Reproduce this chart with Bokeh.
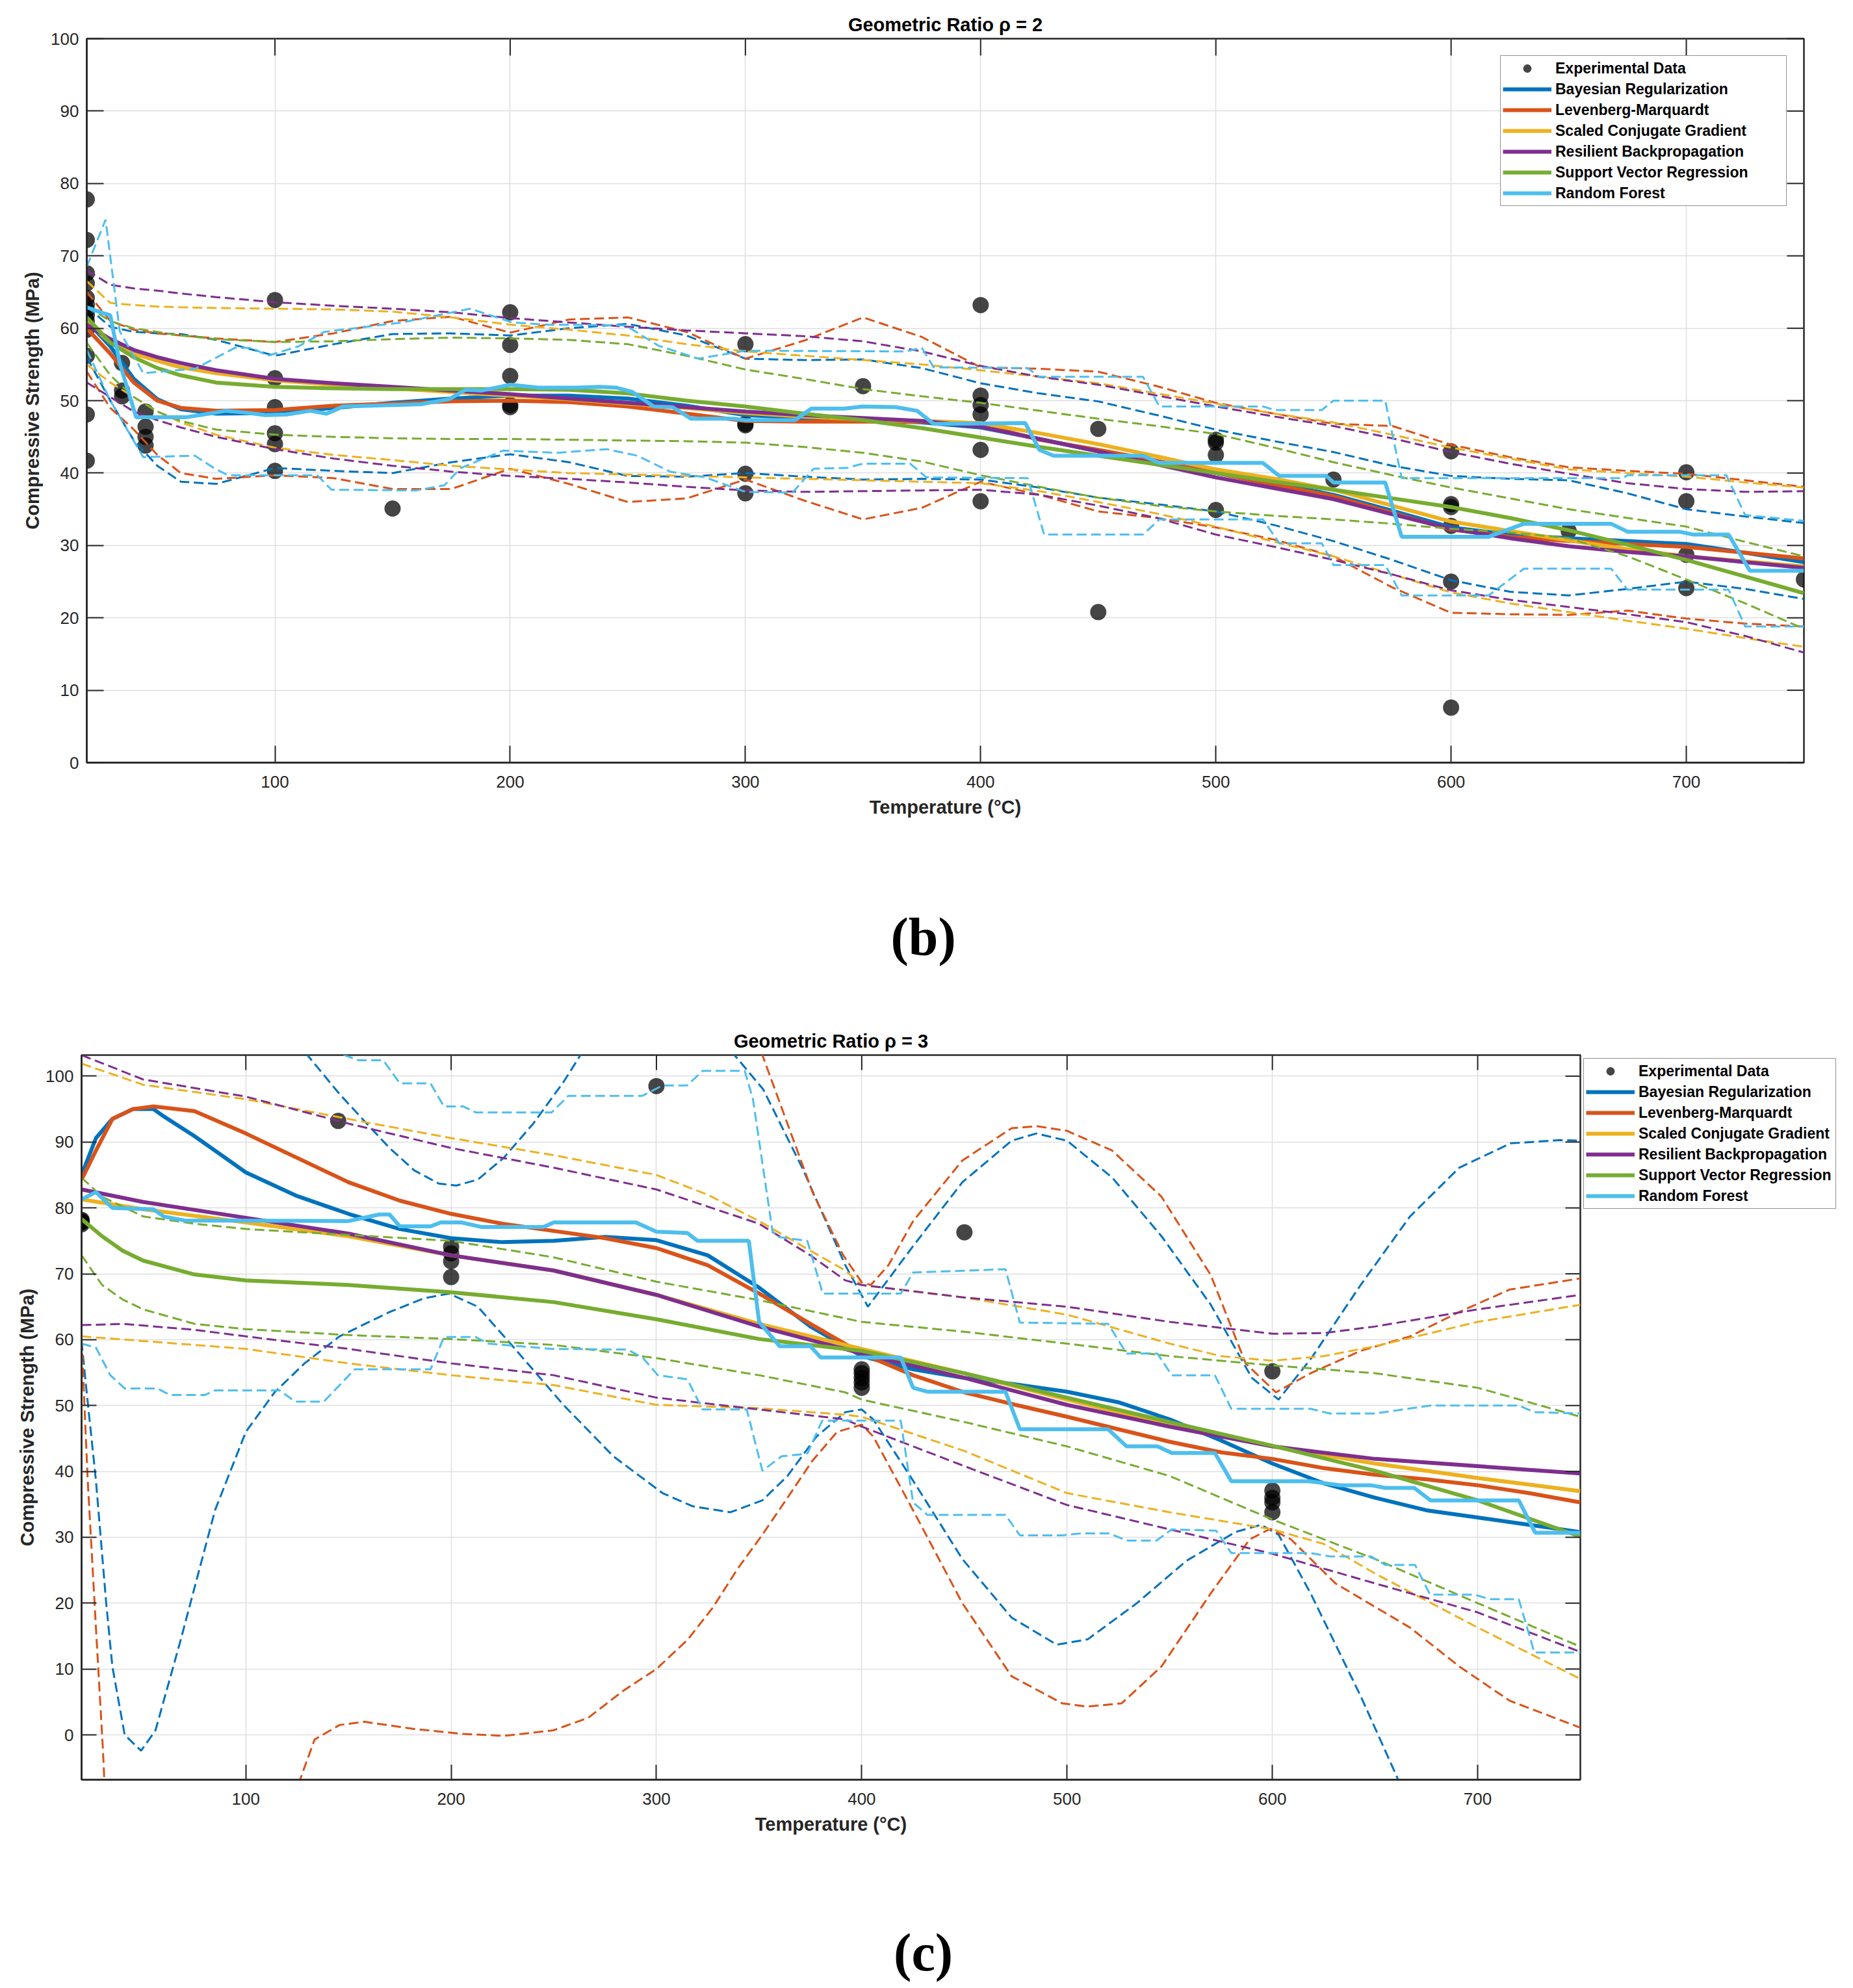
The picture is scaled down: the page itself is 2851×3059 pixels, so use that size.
import math
from bokeh.plotting import figure
from bokeh.models import Range1d, FixedTicker, Legend, LegendItem
from bokeh.core.properties import value
from bokeh.layouts import column
from bokeh.embed import file_html
from bokeh.resources import INLINE

# ---------------------------------------------------------------- common
MODEL_NAMES = ["Bayesian Regularization", "Levenberg-Marquardt", "Scaled Conjugate Gradient",
               "Resilient Backpropagation", "Support Vector Regression", "Random Forest"]
MODEL_COLORS = ["#0072BD", "#D95319", "#EDB120", "#7E2F8E", "#77AC30", "#4DBEEE"]
X_TICKS = [100, 200, 300, 400, 500, 600, 700]
Y_TICKS = [0, 10, 20, 30, 40, 50, 60, 70, 80, 90, 100]
PANEL_TAGS = ["(b)", "(c)"]

# ---------------------------------------------------------------- panel (b)  rho = 2
B_EXP_T = [20, 20, 20, 20, 20, 20, 20, 20, 20, 20, 20, 20, 20,
           35, 35, 35, 45, 45, 45, 45,
           100, 100, 100, 100, 100, 100, 150,
           200, 200, 200, 200, 200,
           300, 300, 300, 300, 300, 350,
           400, 400, 400, 400, 400, 400, 450, 450,
           500, 500, 500, 500, 550,
           600, 600, 600, 600, 600, 600, 650,
           700, 700, 700, 700, 750]
B_EXP_S = [77.8, 72.2, 67.6, 66.2, 64.2, 63.3, 62.5, 61.8, 61.0, 59.8, 56.2, 48.1, 41.7,
           55.2, 51.4, 50.6, 48.5, 46.4, 45.0, 43.8,
           63.9, 53.1, 49.1, 45.5, 44.0, 40.3, 35.1,
           62.2, 57.7, 53.4, 49.4, 49.1,
           57.8, 46.8, 46.6, 39.9, 37.2, 52.0,
           63.2, 50.7, 49.4, 48.1, 43.2, 36.1, 46.1, 20.8,
           44.6, 44.2, 42.5, 34.9, 39.1,
           43.0, 35.7, 35.3, 32.7, 25.0, 7.6, 32.0,
           40.1, 36.1, 28.7, 24.1, 25.3]

B_T = [20, 30, 40, 50, 60, 75, 100, 125, 150, 175, 200,
       225, 250, 275, 300, 325, 350, 375, 400, 425, 450, 475,
       500, 525, 550, 575, 600, 625, 650, 675, 700, 725, 750]

B_BR_MEAN = [61, 57.5, 53, 50.2, 48.8, 48.2, 48.3, 49, 49.7, 50.3, 50.7,
             50.7, 50.3, 49.3, 48, 47.6, 47.4, 47, 46.3, 44.7, 43, 41.5,
             40, 38.6, 37, 34.8, 32.5, 31.5, 31, 30.6, 30.2, 29, 27.7]
B_BR_UP = [63, 60.2, 59.5, 59.3, 59.2, 58.4, 56.2, 57.8, 59.2, 59.3, 59,
           60, 60.6, 59, 55.8, 55.6, 55.7, 54.5, 52.4, 51, 49.9, 48,
           46, 44.4, 42.9, 41, 39.6, 39.2, 39.0, 37.2, 35, 34, 33.1]
B_BR_LO = [56, 50, 44.5, 41, 38.8, 38.5, 40.7, 40.3, 40, 41.5, 42.6,
           41.5, 39.6, 39.5, 40, 39.5, 39.1, 39.2, 39.1, 38, 36.6, 35.7,
           34.7, 32.8, 30.6, 28, 25.2, 23.6, 23.1, 24, 25, 24, 22.6]

B_LM_MEAN = [60, 56.5, 52.5, 50, 49, 48.6, 48.7, 49.3, 49.6, 49.9, 50,
             49.8, 49.2, 48.2, 47.2, 47.1, 47.1, 47.1, 46.7, 44.6, 43.2, 41.7,
             40, 38.4, 36.8, 34.5, 32.2, 31.2, 30.6, 30.2, 29.8, 29, 28.2]
B_LM_UP = [65, 61, 59.8, 59.3, 59, 58.6, 58.1, 59.3, 61, 61.6, 59.4,
           61.2, 61.5, 59.5, 55.8, 58.3, 61.5, 58.8, 54.6, 54.4, 54, 52,
           49.7, 48.2, 46.8, 46.5, 43.9, 42.2, 40.8, 40.3, 39.9, 39, 38.1]
B_LM_LO = [54, 49, 46, 42.5, 40, 39.2, 39.7, 39.3, 37.8, 37.8, 40.6,
           38.5, 36, 36.5, 39.1, 36.2, 33.6, 35.2, 38.8, 37, 34.7, 33.8,
           32.5, 30.8, 28.5, 24.2, 20.7, 20.5, 20.4, 21, 19.9, 19.2, 18.8]

B_SCG_MEAN = [61, 58, 56.5, 55.5, 54.6, 53.8, 52.8, 52.2, 51.7, 51.2, 50.7,
              50.2, 49.6, 49.0, 48.3, 47.8, 47.4, 47.2, 46.9, 45.5, 44, 42.3,
              40.5, 39.2, 37.7, 35.5, 33.3, 32, 30.7, 29.5, 28.5, 27.8, 27.1]
B_SCG_UP = [66.5, 63.5, 63.2, 63, 62.9, 62.8, 62.7, 62.6, 62.3, 61.5, 60.5,
            59.8, 59, 57.8, 56.8, 56.2, 55.6, 55, 54.2, 53.3, 52.4, 51,
            49.6, 48.2, 47, 45.3, 43.5, 42, 40.5, 40, 39.5, 38.7, 38]
B_SCG_LO = [55, 52.5, 50.5, 48.5, 47, 45.3, 43.5, 42.5, 41.8, 41, 40.5,
            40, 39.8, 39.6, 39.4, 39.2, 39, 38.8, 38.6, 37.5, 36, 34.4,
            32.6, 30.5, 28.5, 26, 23.5, 22, 20.8, 19.6, 18.5, 17.2, 16]

B_RP_MEAN = [60.5, 58.5, 57, 56, 55.2, 54.2, 53, 52.4, 51.9, 51.4, 50.9,
             50.3, 49.7, 49.1, 48.5, 48, 47.6, 47.2, 46.4, 44.7, 43, 41.2,
             39.4, 37.9, 36.4, 34.3, 32.3, 31, 29.9, 29.1, 28.5, 27.7, 26.9]
B_RP_UP = [68, 66, 65.5, 65.2, 64.8, 64.3, 63.6, 63.1, 62.7, 62.2, 61.4,
           60.8, 60.2, 59.7, 59.3, 58.9, 58.2, 56.8, 54.8, 53.3, 52.2, 50.7,
           49.2, 47.8, 46.5, 44.8, 42.9, 41.3, 39.9, 38.6, 37.8, 37.4, 37.5]
B_RP_LO = [52.5, 50.5, 48.5, 47.3, 46.3, 45, 43.3, 42, 41, 40.2, 39.6,
           39.2, 38.7, 38.1, 37.6, 37.4, 37.5, 37.6, 37.7, 37, 35.5, 33.8,
           31.5, 29.8, 28, 26, 23.8, 22.5, 21.5, 20.5, 19.4, 17.5, 15.2]

B_SVR_MEAN = [61.5, 58, 56, 54.5, 53.5, 52.5, 51.9, 51.7, 51.6, 51.6, 51.6,
              51.5, 51, 50, 49.2, 48.2, 47.3, 46.2, 44.9, 43.6, 42.4, 41.2,
              40, 38.8, 37.7, 36.5, 35.3, 33.8, 32.1, 30.1, 28, 25.7, 23.4]
B_SVR_UP = [63, 61, 60, 59.5, 59, 58.5, 58.1, 58.2, 58.5, 58.7, 58.6,
            58.4, 57.8, 56.2, 54.3, 53, 51.6, 50.6, 49.7, 48.6, 47.5, 46.5,
            45.4, 43.5, 41.5, 39.7, 38, 36.5, 35, 33.8, 32.6, 30.5, 28.5]
B_SVR_LO = [58, 53.5, 50.5, 48.5, 47.2, 46, 45.3, 45, 44.8, 44.7, 44.7,
            44.6, 44.5, 44.4, 44.2, 43.6, 42.8, 41.6, 39.7, 38.1, 36.6, 35.5,
            34.7, 34.1, 33.6, 33, 32.3, 31.8, 31, 28.5, 25.3, 22, 18.5]

B_RF_MEAN_T = [20, 26, 30, 34, 41, 62, 72, 79, 89, 96, 105, 115, 122, 129, 162, 174, 181, 188,
               200, 212, 228, 238, 245, 252, 261, 269, 277, 295, 300, 321, 328, 342, 350, 364,
               373, 380, 419, 425, 431, 469, 476, 520, 527, 547, 550, 572, 579, 616, 631, 668,
               675, 697, 703, 718, 727, 750]
B_RF_MEAN = [62.9, 62.2, 61.8, 55.2, 47.7, 47.7, 48.2, 48.6, 48.3, 48.0, 48.1, 48.6, 48.2, 49.2,
             49.5, 50.2, 51.5, 51.4, 52.2, 51.8, 51.8, 51.9, 51.8, 51.2, 49.2, 49.1, 47.5, 47.5,
             47.3, 47.3, 48.9, 48.9, 49.2, 49.1, 48.6, 46.8, 46.9, 43.2, 42.4, 42.4, 41.4, 41.4,
             39.6, 39.6, 38.7, 38.7, 31.2, 31.2, 33.0, 33.0, 31.9, 31.9, 31.5, 31.5, 26.5, 26.5]
B_RF_UP_T = [20, 28, 34, 44, 66, 83, 90, 97, 110, 121, 154, 183, 201, 215, 249, 263, 280, 300,
             368, 375, 380, 420, 425, 469, 476, 520, 525, 545, 550, 572, 579, 673, 675, 717,
             725, 750]
B_RF_UP = [68.5, 75.0, 59.6, 53.8, 54.4, 57.3, 57.3, 56.2, 57.5, 59.5, 60.8, 62.7, 60.8, 60.5,
           60.4, 57.6, 55.8, 56.9, 56.8, 57.3, 54.6, 54.5, 53.3, 53.3, 49.2, 49.2, 48.7, 48.7,
           50.0, 50.0, 39.3, 39.3, 39.7, 39.7, 34.2, 33.4]
B_RF_LO_T = [20, 30, 44, 66, 74, 80, 118, 124, 160, 172, 179, 197, 220, 241, 254, 268, 283, 300,
             320, 329, 343, 350, 370, 377, 420, 427, 469, 476, 520, 527, 545, 550, 572, 579,
             616, 631, 668, 675, 718, 725, 750]
B_RF_LO = [57.0, 50.0, 42.2, 42.4, 40.7, 39.7, 39.7, 37.7, 37.6, 38.3, 40.7, 43.1, 42.8, 43.3,
           42.4, 40.2, 39.4, 37.4, 37.3, 40.6, 40.7, 41.3, 41.3, 39.4, 39.3, 31.5, 31.5, 33.6,
           33.6, 30.3, 30.3, 27.3, 27.3, 23.1, 23.1, 26.8, 26.8, 23.9, 23.9, 18.8, 18.8]

# ---------------------------------------------------------------- panel (c)  rho = 3
C_EXP_T = [20, 20, 20, 20, 20, 145, 200, 200, 200, 200, 300,
           400, 400, 400, 400, 400, 450, 600, 600, 600, 600, 600]
C_EXP_S = [77.5, 77.8, 78.0, 78.2, 77.9, 93.2, 74.1, 73.1, 71.9, 69.5, 98.5,
           55.5, 54.9, 54.2, 53.5, 52.7, 76.3, 55.2, 37.1, 36.0, 35.3, 33.8]

C_BR_MEAN_T = [20, 27, 35, 45, 55, 60, 75, 100, 125, 150, 175, 200, 225, 250, 275, 300, 325,
               350, 375, 400, 425, 450, 475, 500, 525, 550, 575, 600, 625, 650, 675, 700, 725, 750]
C_BR_MEAN = [85, 90.6, 93.5, 95, 95, 93.9, 90.9, 85.4, 81.8, 79.1, 76.8, 75.4, 74.8, 75.0, 75.6,
             75.1, 72.8, 67.9, 62.0, 57.5, 55.5, 54.2, 53.2, 52.1, 50.5, 47.9, 44.7, 41.2, 38.2,
             36.0, 34.1, 33.0, 31.9, 30.8]
C_BR_UP_T = [20, 50, 80, 110, 130, 145.6, 157.7, 170, 182, 194, 202.5, 213, 225.6, 240, 254.7,
             263, 290, 320, 338, 352, 371, 392, 403, 425, 449, 473, 485, 500, 522, 546, 570,
             590, 603, 619, 643, 667, 691, 716, 740, 750]
C_BR_UP = [125, 135, 128, 112, 103.2, 97.3, 93.2, 89.1, 85.7, 83.7, 83.4, 84.3, 87.6, 92.8, 99.1,
           103.2, 112, 110, 103.2, 98, 86.1, 71.3, 65, 74.2, 83.9, 90.2, 91.3, 90.2, 84.6, 75.7,
           65.3, 54.2, 50.9, 57.2, 68.3, 78.7, 86.1, 89.8, 90.3, 90.2]
C_BR_LO_T = [20, 22, 27, 32, 35, 41, 49, 56, 68, 85, 100, 114, 128.6, 145.6, 170, 187, 199, 213,
             230, 254.7, 279, 303, 317.7, 336, 351.6, 363.8, 378, 392, 400, 405.6, 425, 449,
             473, 495, 510, 534, 558, 582, 594.5, 603, 618.6, 643, 660, 700, 750]
C_BR_LO = [59.8, 53.5, 38.6, 20, 10.4, 0, -2.4, 0.7, 14.1, 34.1, 46.0, 52.0, 56.4, 60.5, 64.2,
           66.3, 67.0, 65.0, 59.0, 50.1, 42.3, 36.7, 34.7, 33.8, 35.6, 39.3, 45.3, 49.0, 49.4,
           47.9, 38.6, 26.7, 17.8, 13.7, 14.5, 20, 26.4, 30.8, 31.9, 30.4, 21.5, 5.9, -5.9,
           -35, -70]

C_LM_MEAN_T = [20, 27, 35, 45, 55, 75, 100, 125, 150, 175, 200, 225, 250, 275, 300, 325, 350,
               375, 400, 425, 450, 475, 500, 525, 550, 575, 600, 625, 650, 675, 700, 725, 750]
C_LM_MEAN = [84.3, 88.7, 93.5, 95, 95.4, 94.7, 91.3, 87.6, 83.9, 81.1, 79.1, 77.6, 76.5, 75.4,
             73.9, 71.3, 67, 62.4, 57.9, 54.6, 52.0, 50.1, 48.3, 46.4, 44.5, 42.9, 41.9, 40.5,
             39.5, 38.8, 37.9, 36.7, 35.3]
C_LM_UP_T = [20, 100, 200, 300, 340, 351.6, 363.8, 376, 391, 400, 404.4, 413, 425, 449, 473,
             485.5, 500, 522, 546, 570, 587, 601.7, 618.6, 643, 667, 691, 715.5, 750]
C_LM_UP = [115, 125, 120, 115, 110, 103.2, 92.8, 82.4, 72.8, 68.7, 68.3, 71.3, 78, 87.2, 92.1,
           92.4, 91.7, 88.7, 81.7, 69.8, 56.4, 52.0, 54.9, 58.3, 60.5, 64.2, 67.6, 69.3]
C_LM_LO_T = [20, 23, 27, 30.4, 33, 45, 70, 100, 115, 125, 133.5, 145.6, 157.7, 182, 206, 225.6,
             249.8, 266.8, 283.8, 300, 315.3, 327.4, 339.5, 351.6, 363.8, 375.9, 388, 400,
             405.6, 425, 449, 473, 497.6, 509.7, 526.6, 546, 570, 589, 599, 609, 630.7, 667,
             691, 715.5, 750]
C_LM_LO = [60.1, 38.6, 16.3, -2.2, -20, -60, -80, -60, -30, -8, -0.7, 1.5, 2.0, 0.9, 0.15,
           -0.15, 0.7, 2.6, 6.7, 10.0, 14.5, 19.3, 25.2, 30.4, 36.0, 41.6, 46.0, 47.1, 45.3,
           34.1, 20, 8.9, 4.8, 4.3, 4.8, 10.4, 21.5, 29.7, 31.3, 29.7, 23.0, 16.3, 10.4, 5.2, 1.1]

C_SCG_MEAN_T = [20, 50, 100, 150, 200, 250, 300, 350, 400, 450, 500, 550, 600, 650, 700, 750]
C_SCG_MEAN = [81.3, 79.8, 77.8, 75.7, 72.8, 70.5, 66.8, 62.4, 58.6, 54.9, 50.9, 47.1, 43.8,
              41.2, 39.0, 37.0]
C_SCG_UP_T = [20, 50, 100, 150, 200, 250, 300, 325, 350, 375, 392, 400, 450, 500, 550, 575, 600,
              625, 650, 700, 750]
C_SCG_UP = [101.9, 98.7, 96.5, 93.5, 90.6, 88, 85, 82, 78, 73.5, 70.5, 68.3, 66.4, 63.8, 59.4,
            57.5, 56.8, 57.5, 59, 62.7, 65.3]
C_SCG_LO_T = [20, 50, 100, 150, 200, 250, 300, 350, 392, 400, 450, 500, 550, 600, 625, 650,
              700, 750]
C_SCG_LO = [60.5, 59.8, 58.6, 56.4, 54.6, 53.1, 50.1, 49.6, 48.6, 48.3, 43.1, 36.7, 33.8, 31.2,
            29, 24.5, 16.3, 8.5]

C_RP_MEAN_T = [20, 50, 100, 150, 200, 250, 300, 350, 400, 450, 500, 550, 600, 650, 700, 750]
C_RP_MEAN = [82.8, 80.9, 78.5, 76.1, 72.8, 70.5, 66.8, 62, 57.9, 54.2, 50.1, 46.8, 43.8, 41.9,
             40.8, 39.7]
C_RP_UP_T = [20, 50, 100, 150, 200, 250, 300, 350, 375, 392, 400, 450, 500, 550, 600, 625, 650,
             700, 750]
C_RP_UP = [103.2, 99.5, 96.9, 92.8, 89.1, 86.1, 82.8, 77.6, 72.8, 69.0, 68.3, 66.4, 65, 62.7,
           60.9, 61.0, 62, 64.6, 66.8]
C_RP_LO_T = [20, 40, 75, 100, 150, 200, 250, 300, 350, 392, 400, 450, 500, 550, 600, 650, 700,
             750]
C_RP_LO = [62.2, 62.4, 61.5, 60.5, 58.6, 56.4, 54.6, 51.2, 49.4, 47.9, 46.8, 40.8, 34.9, 31.2,
           27.5, 23, 18.6, 12.6]

C_SVR_MEAN_T = [20, 30, 40, 50, 75, 100, 150, 200, 250, 300, 350, 400, 450, 500, 550, 600, 650,
                700, 750]
C_SVR_MEAN = [78.3, 75.7, 73.5, 72.0, 69.9, 69.0, 68.3, 67.2, 65.7, 63.1, 60.1, 58.3, 54.9, 51.2,
              47.5, 43.9, 40.1, 35.6, 30.1]
C_SVR_UP_T = [20, 30, 50, 75, 100, 150, 200, 250, 300, 350, 400, 450, 500, 550, 600, 650, 700,
              750]
C_SVR_UP = [84.6, 81.7, 78.7, 77.6, 76.8, 75.9, 75, 72.5, 68.8, 66, 62.7, 61.2, 59.4, 57.5, 56.1,
            54.9, 52.7, 48.3]
C_SVR_LO_T = [20, 30, 40, 50, 75, 100, 150, 200, 250, 300, 350, 392, 400, 450, 500, 550, 600,
              650, 700, 750]
C_SVR_LO = [72.8, 68.3, 66.1, 64.6, 62.4, 61.6, 60.7, 60.1, 59.2, 57.2, 54.6, 52, 50.9, 47.5,
            43.8, 39.3, 32.7, 26.7, 20, 13.4]

C_RF_MEAN_T = [20, 27, 35, 55, 60, 70, 150, 165, 170, 175, 190, 195, 205, 215, 245, 250, 290,
               300, 315, 320, 345, 350, 360, 375, 380, 419, 425, 432, 470, 477, 520, 529, 544,
               551, 572, 580, 618, 633, 648, 655, 669, 677, 720, 728, 750]
C_RF_MEAN = [81.3, 82.4, 80.0, 79.8, 78.7, 78.1, 78.0, 79.0, 79.0, 77.2, 77.2, 77.8, 77.8, 77.1,
             77.1, 77.8, 77.8, 76.4, 76.2, 75.0, 75.0, 62.7, 59.0, 59.0, 57.3, 57.3, 52.7, 52.1,
             52.1, 46.4, 46.4, 43.8, 43.8, 42.8, 42.8, 38.5, 38.5, 37.9, 37.9, 37.5, 37.5, 35.6,
             35.6, 30.7, 30.7]
C_RF_UP_T = [20, 140, 148, 155, 167, 175, 190, 196.5, 206, 212, 249, 257, 293, 303, 315, 322.5,
             343, 347, 356.5, 359, 373.5, 381, 419, 425, 470, 477, 520, 529, 544, 551, 572, 580,
             618.6, 628, 650, 677, 720, 727.6, 750]
C_RF_UP = [110, 106, 103.2, 102.4, 102.4, 98.9, 98.9, 95.4, 95.4, 94.5, 94.5, 97, 97, 98.6,
           98.6, 100.8, 100.8, 96.5, 76.5, 75.6, 75.0, 67, 67, 70.2, 70.7, 62.6, 62.4, 57.9,
           57.9, 54.6, 54.6, 49.5, 49.5, 48.8, 48.8, 50, 50, 49, 48.8]
C_RF_LO_T = [20, 27, 34, 41, 57, 63, 80, 85, 116.5, 124, 138, 153, 190, 196.5, 212, 218, 249,
             286, 293.5, 300.7, 315, 322.5, 344, 351.6, 361, 373.5, 380.7, 419, 425, 432, 470,
             477, 497.6, 507, 520.6, 529, 543.6, 551, 572.6, 580, 618.6, 628, 648, 655, 669.5,
             676.8, 698.5, 705.8, 720, 727.6, 750]
C_RF_LO = [59.4, 58.8, 54.6, 52.6, 52.6, 51.6, 51.6, 52.3, 52.3, 50.6, 50.6, 55.5, 55.5, 60.4,
           60.4, 59.4, 58.6, 58.5, 57.2, 54.6, 54.0, 49.4, 49.4, 40.1, 42.3, 42.7, 47.7, 47.7,
           35.3, 33.4, 33.4, 30.3, 30.3, 30.6, 30.6, 29.5, 29.5, 31.2, 31.0, 27.6, 27.6, 27.1,
           27.1, 25.8, 25.8, 21.3, 21.3, 20.6, 20.6, 12.5, 12.5]

B_SERIES = [
    ((B_T, B_BR_MEAN), (B_T, B_BR_UP), (B_T, B_BR_LO)),
    ((B_T, B_LM_MEAN), (B_T, B_LM_UP), (B_T, B_LM_LO)),
    ((B_T, B_SCG_MEAN), (B_T, B_SCG_UP), (B_T, B_SCG_LO)),
    ((B_T, B_RP_MEAN), (B_T, B_RP_UP), (B_T, B_RP_LO)),
    ((B_T, B_SVR_MEAN), (B_T, B_SVR_UP), (B_T, B_SVR_LO)),
    ((B_RF_MEAN_T, B_RF_MEAN), (B_RF_UP_T, B_RF_UP), (B_RF_LO_T, B_RF_LO)),
]
C_SERIES = [
    ((C_BR_MEAN_T, C_BR_MEAN), (C_BR_UP_T, C_BR_UP), (C_BR_LO_T, C_BR_LO)),
    ((C_LM_MEAN_T, C_LM_MEAN), (C_LM_UP_T, C_LM_UP), (C_LM_LO_T, C_LM_LO)),
    ((C_SCG_MEAN_T, C_SCG_MEAN), (C_SCG_UP_T, C_SCG_UP), (C_SCG_LO_T, C_SCG_LO)),
    ((C_RP_MEAN_T, C_RP_MEAN), (C_RP_UP_T, C_RP_UP), (C_RP_LO_T, C_RP_LO)),
    ((C_SVR_MEAN_T, C_SVR_MEAN), (C_SVR_UP_T, C_SVR_UP), (C_SVR_LO_T, C_SVR_LO)),
    ((C_RF_MEAN_T, C_RF_MEAN), (C_RF_UP_T, C_RF_UP), (C_RF_LO_T, C_RF_LO)),
]

FONT = "Liberation Sans"
INK = "#262626"
X_LO, X_HI = 20, 750
PAGE_W = 2843


def style_axis(ax, ticks, tick_len, standoff):
    ax.ticker = FixedTicker(ticks=ticks)
    ax.major_tick_in = tick_len
    ax.major_tick_out = 0
    ax.minor_tick_in = 0
    ax.minor_tick_out = 0
    ax.major_tick_line_color = INK
    ax.major_tick_line_width = 2
    ax.axis_line_color = INK
    ax.axis_line_width = 2.5
    ax.major_label_text_font = FONT
    ax.major_label_text_font_size = "26px"
    ax.major_label_text_color = INK
    ax.major_label_standoff = standoff
    ax.axis_label_text_font = FONT
    ax.axis_label_text_font_size = "29px"
    ax.axis_label_text_font_style = "bold"
    ax.axis_label_text_color = INK


def build_panel(title, ylo, yhi, tick_len, exp_t, exp_s, series, fw, fh,
                bl, br, bt, bb, legend_side, legend_loc, legend_margin, label_w):
    p = figure(frame_width=fw, frame_height=fh, x_range=Range1d(X_LO, X_HI),
               y_range=Range1d(ylo, yhi), output_backend="svg", toolbar_location=None,
               min_border_left=bl, min_border_right=br, min_border_top=bt,
               min_border_bottom=bb, title=title,
               background_fill_color="white", border_fill_color="white")
    try:
        p.frame_align = False   # keep each panel's own frame position in the column
    except Exception:
        pass
    p.title.align = "center"
    p.title.text_font = FONT
    p.title.text_font_size = "29px"
    p.title.text_font_style = "bold"
    p.title.text_color = "black"
    p.title.standoff = 12
    p.outline_line_color = INK
    p.outline_line_width = 2.5

    style_axis(p.xaxis[0], X_TICKS, tick_len, 20)
    style_axis(p.yaxis[0], Y_TICKS, tick_len, 12)
    p.xaxis[0].axis_label = "Temperature (°C)"
    p.yaxis[0].axis_label = "Compressive Strength (MPa)"
    p.xaxis[0].axis_label_standoff = 11
    p.yaxis[0].axis_label_standoff = 9

    p.xgrid.ticker = FixedTicker(ticks=X_TICKS)
    p.ygrid.ticker = FixedTicker(ticks=Y_TICKS)
    p.grid.grid_line_color = "#DEDEDE"
    p.grid.grid_line_width = 1.5

    r_exp = p.scatter(exp_t, exp_s, marker="circle", size=25, fill_color="black",
                      fill_alpha=0.73, line_color=None)
    items = [LegendItem(label="Experimental Data", renderers=[r_exp])]
    for name, color, (mean, up, lo) in zip(MODEL_NAMES, MODEL_COLORS, series):
        r_mean = p.line(mean[0], mean[1], line_color=color, line_width=6)
        p.line(up[0], up[1], line_color=color, line_width=3, line_dash="15 7")
        p.line(lo[0], lo[1], line_color=color, line_width=3, line_dash="15 7")
        items.append(LegendItem(label=name, renderers=[r_mean]))

    # box-style tick marks on the top and right frame edges (pointing inward)
    p.ray(x=X_TICKS, y=[yhi] * len(X_TICKS), length=tick_len, length_units="screen",
          angle=-math.pi / 2, line_color=INK, line_width=2, level="overlay")
    p.ray(x=[X_HI] * len(Y_TICKS), y=Y_TICKS, length=tick_len, length_units="screen",
          angle=math.pi, line_color=INK, line_width=2, level="overlay")

    leg = Legend(items=items, label_text_font=FONT, label_text_font_size="23px",
                 label_text_font_style="bold", label_text_color="black",
                 glyph_width=75, glyph_height=32, label_height=32, label_standoff=6,
                 spacing=0, padding=3, border_line_color=INK, border_line_width=1.5,
                 background_fill_color="white", background_fill_alpha=1.0,
                 location=legend_loc, margin=legend_margin, label_width=label_w)
    if legend_side == "inside":
        p.add_layout(leg)
    else:
        p.add_layout(leg, legend_side)
    return p


def panel_tag(text, height, frac_from_bottom):
    t = figure(width=PAGE_W, height=height, x_range=Range1d(0, 1), y_range=Range1d(0, 1),
               output_backend="svg", toolbar_location=None, min_border=0,
               outline_line_color=None, background_fill_color="white",
               border_fill_color="white")
    try:
        t.frame_align = False
    except Exception:
        pass
    t.axis.visible = False
    t.grid.visible = False
    t.text(x=[0.4995], y=[frac_from_bottom], text=[text], text_align="center",
           text_baseline="middle", text_font=value("Liberation Serif"),
           text_font_size="82px", text_font_style="bold", text_color="black")
    return t


p_b = build_panel("Geometric Ratio ρ = 2", 0, 100, 26, B_EXP_T, B_EXP_S, B_SERIES,
                  2642, 1114, 133, 68, 59, 157, "inside", "top_right", 26, 352)
p_c = build_panel("Geometric Ratio ρ = 3", -6.8, 103.2, 23, C_EXP_T, C_EXP_S, C_SERIES,
                  2306, 1115, 125, 412, 73, 142, "right", "top_left", 5, 300)

layout = column(p_b, panel_tag(PANEL_TAGS[0], 220, 0.495),
                p_c, panel_tag(PANEL_TAGS[1], 171, 0.275))

with open("out.html", "w") as f:
    f.write(file_html(layout, INLINE))
